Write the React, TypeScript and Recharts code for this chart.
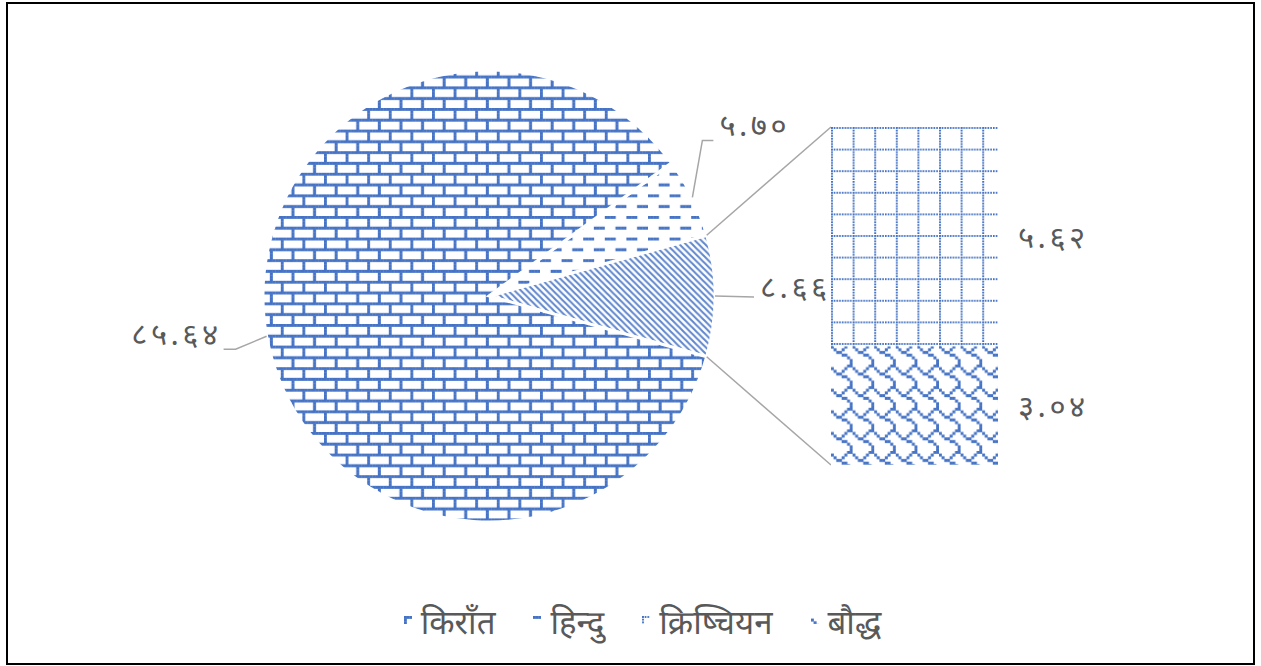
import React from 'react';
import { PieChart, Pie, Cell, BarChart, Bar, XAxis, YAxis, LabelList, Legend } from 'recharts';

// ---------- data ----------
const legendCategories = ['किराँत', 'हिन्दु', 'क्रिष्चियन', 'बौद्ध'];
const legendPatterns = ['brick', 'dash', 'dotgrid', 'shingle'];

const pieNames = ['अन्य', 'हिन्दु', 'किराँत'];
const pieValues = [8.66, 5.7, 85.64];
const piePatterns = ['diag', 'dash', 'brick'];

const barNames = ['बौद्ध', 'क्रिष्चियन'];
const barValues = [3.04, 5.62];
const barPatterns = ['shingle', 'dotgrid'];

// ---------- helpers ----------
const DEV = ['०', '१', '२', '३', '४', '५', '६', '७', '८', '९'];
const toDev = (v: number) =>
  Number(v)
    .toFixed(2)
    .replace(/[0-9]/g, (d) => DEV[Number(d)]);

const FONT = "'Noto Sans Devanagari', 'Noto Sans', 'Lohit Devanagari', sans-serif";
const TXT = '#595959';
const BLUE = '#4472C4';
const LINE = '#A6A6A6';
const LABEL_SIZE = 31;
const LABEL_SPACING = 3.5;

// layout
const CX = 489;
const CY = 296;
const R = 226;
const BAR_LEFT = 831;
const BAR_TOP = 127;
const BAR_W = 167;
const BAR_H = 338;

const pieData = pieNames.map((n, i) => ({ name: n, value: pieValues[i], pat: piePatterns[i] }));
const pieTotal = pieValues.reduce((a, b) => a + b, 0);
const START = -(pieValues[0] / pieTotal) * 180;

const barRow: Record<string, any> = { name: pieNames[0] };
barNames.forEach((n, i) => (barRow[n] = barValues[i]));
const barData = [barRow];

const RAD = Math.PI / 180;
const pt = (cx: number, cy: number, r: number, a: number) => ({
  x: cx + r * Math.cos(-a * RAD),
  y: cy + r * Math.sin(-a * RAD),
});

const S = 2.7; // pattern cell size
const bitmapRects = (rows: number[], id: string) => {
  const out: any[] = [];
  rows.forEach((row, y) => {
    for (let x = 0; x < 8; x++) {
      if (row & (0x80 >> x)) {
        out.push(
          <rect key={`${id}-${x}-${y}`} x={x * S - 0.15} y={y * S - 0.15} width={S + 0.3} height={S + 0.3} fill={BLUE} />
        );
      }
    }
  });
  return out;
};

const Patterns = () => (
  <svg width={0} height={0} style={{ position: 'absolute' }}>
    <defs>
      <pattern id="brick" patternUnits="userSpaceOnUse" width={8 * S} height={8 * S}>
        <rect width={8 * S} height={8 * S} fill="#fff" />
        {bitmapRects([0xff, 0x80, 0x80, 0x80, 0xff, 0x08, 0x08, 0x08], 'b')}
      </pattern>
      <pattern id="dash" patternUnits="userSpaceOnUse" width={8 * S} height={8 * S}>
        <rect width={8 * S} height={8 * S} fill="#fff" />
        {bitmapRects([0xf0, 0, 0, 0, 0x0f, 0, 0, 0], 'd')}
      </pattern>
      <pattern id="shingle" patternUnits="userSpaceOnUse" width={8 * S} height={8 * S}>
        <rect width={8 * S} height={8 * S} fill="#fff" />
        {bitmapRects([0x03, 0x84, 0x48, 0x30, 0x0c, 0x02, 0x01, 0x01], 's')}
      </pattern>
      <pattern id="diag" patternUnits="userSpaceOnUse" width={6.4} height={6.4}>
        <rect width={6.4} height={6.4} fill="#fff" />
        <path d="M-1,-1 L7.4,7.4 M-1,5.4 L1,7.4 M5.4,-1 L7.4,1" stroke={BLUE} strokeWidth={2.1} strokeOpacity={0.85} />
      </pattern>
      <pattern id="dotgrid" patternUnits="userSpaceOnUse" width={8 * S} height={8 * S}>
        <rect width={8 * S} height={8 * S} fill="#fff" />
        <line x1={0} y1={1} x2={8 * S} y2={1} stroke={BLUE} strokeWidth={2} strokeDasharray="1.6 1.1" />
        <line x1={1} y1={0} x2={1} y2={8 * S} stroke={BLUE} strokeWidth={2} strokeDasharray="1.6 1.1" />
      </pattern>
    </defs>
  </svg>
);

const labelText = (x: number, y: number, anchor: 'start' | 'end', s: string) => (
  <text
    x={x}
    y={y}
    textAnchor={anchor}
    fill={TXT}
    fontSize={LABEL_SIZE}
    fontFamily={FONT}
    letterSpacing={LABEL_SPACING}
    dominantBaseline="central"
  >
    {s}
  </text>
);

const renderPieLabel = (props: any) => {
  const { cx, cy, outerRadius, midAngle, index, value } = props;
  const c = cx ?? CX;
  const y0 = cy ?? CY;
  const r = outerRadius ?? R;
  const e = pt(c, y0, r, midAngle);
  const label = toDev(value);
  if (index === 2) {
    return (
      <g key="l2">
        <path d={`M${e.x},${e.y} L${e.x - 31},${e.y + 13} L${e.x - 43},${e.y + 13}`} stroke={LINE} strokeWidth={1.5} fill="none" />
        {labelText(e.x - 45, e.y + 1, 'end', label)}
      </g>
    );
  }
  if (index === 1) {
    return (
      <g key="l1">
        <path d={`M${e.x},${e.y} L${e.x + 10},${e.y - 57} L${e.x + 21},${e.y - 57}`} stroke={LINE} strokeWidth={1.5} fill="none" />
        {labelText(e.x + 27, e.y - 69, 'start', label)}
      </g>
    );
  }
  // "other" slice: value label + connectors to the bar
  const top = pt(c, y0, r, -START);
  const bot = pt(c, y0, r, START);
  return (
    <g key="l0">
      <line x1={top.x} y1={top.y} x2={BAR_LEFT} y2={BAR_TOP} stroke={LINE} strokeWidth={1.5} />
      <line x1={bot.x} y1={bot.y} x2={BAR_LEFT} y2={BAR_TOP + BAR_H} stroke={LINE} strokeWidth={1.5} />
      <path d={`M${e.x},${e.y} L${e.x + 39},${e.y + 1}`} stroke={LINE} strokeWidth={1.5} fill="none" />
      {labelText(e.x + 45, e.y - 6, 'start', label)}
    </g>
  );
};

const LegendContent = () => (
  <div
    style={{
      display: 'flex',
      justifyContent: 'center',
      alignItems: 'center',
      gap: 38,
      fontFamily: FONT,
      fontSize: 33,
      color: TXT,
      lineHeight: '44px',
    }}
  >
    {legendCategories.map((name, i) => (
      <div key={name} style={{ display: 'flex', alignItems: 'center' }}>
        <svg width={8} height={8} style={{ marginRight: 9, marginTop: -12 }}>
          <rect width={8} height={8} fill={`url(#${legendPatterns[i]})`} />
        </svg>
        <span>{name}</span>
      </div>
    ))}
  </div>
);

export default function App() {
  return (
    <div style={{ position: 'absolute', left: 0, top: 0, width: 1261, height: 666, background: '#fff' }}>
      <Patterns />
      <div
        style={{
          position: 'absolute',
          left: 6,
          top: 2,
          width: 1245,
          height: 659,
          border: '2px solid #000',
        }}
      />
      <div style={{ position: 'absolute', left: 0, top: 0 }}>
        <PieChart width={1261} height={666} margin={{ top: 0, right: 0, bottom: 0, left: 0 }}>
          <Pie
            data={pieData}
            dataKey="value"
            nameKey="name"
            cx={CX}
            cy={CY}
            outerRadius={R}
            startAngle={START}
            endAngle={START + 360}
            stroke="#fff"
            strokeWidth={3}
            label={renderPieLabel}
            labelLine={false}
            isAnimationActive={false}
          >
            {pieData.map((d) => (
              <Cell key={d.name} fill={`url(#${d.pat})`} />
            ))}
          </Pie>
          <Legend
            content={<LegendContent />}
            wrapperStyle={{ position: 'absolute', left: 12, top: 604, width: 1261, height: 44 }}
          />
        </PieChart>
      </div>
      <div style={{ position: 'absolute', left: BAR_LEFT, top: BAR_TOP }}>
        <BarChart
          width={BAR_W + 140}
          height={BAR_H}
          data={barData}
          margin={{ top: 0, right: 140, bottom: 0, left: 0 }}
          barCategoryGap={0}
          barGap={0}
        >
          <XAxis dataKey="name" hide />
          <YAxis hide domain={[0, pieValues[0]]} allowDataOverflow />
          {barNames.map((n, i) => (
            <Bar key={n} dataKey={n} stackId="o" fill={`url(#${barPatterns[i]})`} isAnimationActive={false}>
              <LabelList
                dataKey={n}
                position="right"
                offset={20}
                formatter={(v: any) => toDev(v)}
                style={{ fill: TXT, fontSize: LABEL_SIZE, fontFamily: FONT, letterSpacing: LABEL_SPACING }}
              />
            </Bar>
          ))}
        </BarChart>
      </div>
    </div>
  );
}
